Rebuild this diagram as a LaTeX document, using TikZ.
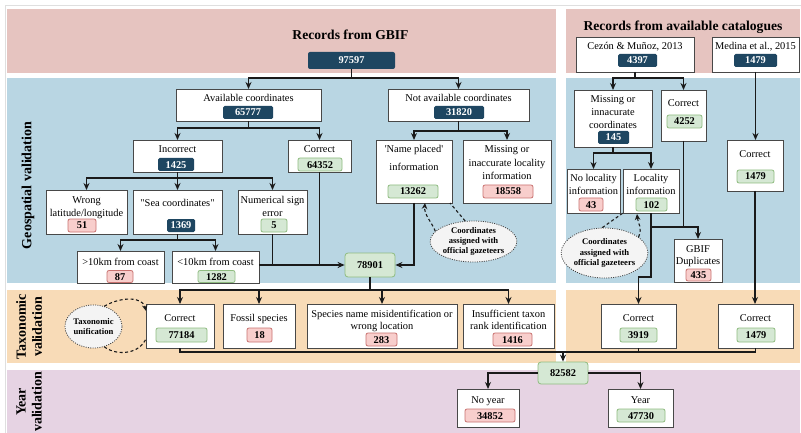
\documentclass[tikz,border=0pt]{standalone}
\usepackage{fontspec}
\setmainfont{Liberation Serif}[Ligatures=TeXOff]
\usetikzlibrary{arrows.meta,shapes.geometric}
\definecolor{pinkband}{HTML}{E6C4C0}
\definecolor{blueband}{HTML}{B9D6E3}
\definecolor{orangeband}{HTML}{F8DBB7}
\definecolor{purpleband}{HTML}{E6D3E3}
\definecolor{navy}{HTML}{1E4661}
\definecolor{gfill}{HTML}{D5E8D4}
\definecolor{gdraw}{HTML}{8FBC80}
\definecolor{pfill}{HTML}{F8CECC}
\definecolor{pdraw}{HTML}{C97270}
\definecolor{boxline}{HTML}{484848}
\definecolor{lc}{HTML}{1A1A1A}
\definecolor{ellfill}{HTML}{F4F4F4}
\newcommand\txtf{\fontsize{10.4}{12.5}\selectfont}
\newcommand\numf{\fontsize{10.4}{12}\selectfont\bfseries}
\newcommand\ellf{\fontsize{8.6}{10.2}\selectfont\bfseries}
\newcommand\titf{\fontsize{13.6}{16}\selectfont\bfseries}
\newcommand\sidef{\fontsize{14}{16}\selectfont\bfseries}
\begin{document}
\begin{tikzpicture}[x=1pt,y=-1pt,
  box/.style={draw=boxline, fill=white, line width=0.9pt, inner sep=0pt, outer sep=0pt},
  tx/.style={font=\txtf, inner sep=0pt, text height=7pt, text depth=1pt},
  num/.style={font=\numf, inner sep=0pt, text height=7pt, text depth=0pt},
  nav/.style={num, fill=navy, text=white, rounded corners=1.5pt},
  gn/.style={num, fill=gfill, draw=gdraw, line width=0.8pt, rounded corners=2pt},
  pk/.style={num, fill=pfill, draw=pdraw, line width=0.8pt, rounded corners=2pt},
  ell/.style={ellipse, draw=black!75, line width=0.8pt, dash pattern=on 1pt off 1.3pt, fill=ellfill, inner sep=0pt, font=\ellf, align=center},
  conn/.style={draw=lc, line width=1.3pt},
  arr/.style={conn, -{Stealth[length=7pt,width=6pt]}},
  dsh/.style={draw=lc, line width=1.1pt, dash pattern=on 3pt off 2.5pt},
  darr/.style={dsh, -{Stealth[length=6pt,width=5.5pt]}},
  side/.style={font=\sidef, rotate=90, align=center, inner sep=0pt},
  ttl/.style={font=\titf, inner sep=0pt}
]
\path[use as bounding box] (0,0) rectangle (801,433);
% frame
\draw[gray!25, line width=0.6pt] (5,433) -- (5,5) -- (801,5);
% bands
\fill[pinkband] (7,9) rectangle (556,73);
\fill[pinkband] (566,9) rectangle (800,73);
\fill[blueband] (7,78) rectangle (556,283);
\fill[blueband] (566,78) rectangle (800,283);
\fill[orangeband] (7,290) rectangle (556,363);
\fill[orangeband] (566,290) rectangle (800,363);
\fill[purpleband] (7,370) rectangle (800,433);

% side labels
\node[side] (lgeo) at (28,185.5) {Geospatial validation};
\node[side] (ltax) at (29,327) {Taxonomic\\validation};
\node[side] (lyear) at (29,402) {Year\\validation};

% titles
\node[ttl] (tgbif) at (350.5,35) {Records from GBIF};
\node[ttl] (tcat) at (683,27) {Records from available catalogues};
\node[nav, minimum width=87pt, minimum height=17pt, rounded corners=2pt] (n97597) at (351.5,60.5) {97597};

% ---------- GBIF geospatial ----------
\node[box, minimum width=145pt, minimum height=32pt] (avail) at (248.5,105) {};
\node[tx] (t-avail) at (248.5,99) {Available coordinates};
\node[nav, minimum width=50pt, minimum height=13pt] (n65777) at (248,112.5) {65777};

\node[box, minimum width=141pt, minimum height=32pt] (notavail) at (458.5,105) {};
\node[tx] (t-notavail) at (458.5,99) {Not available coordinates};
\node[nav, minimum width=50pt, minimum height=13pt] (n31820) at (459,112.5) {31820};

\node[box, minimum width=89pt, minimum height=32pt] (incorrect) at (177.5,156) {};
\node[tx] (t-incorrect) at (177.5,150) {Incorrect};
\node[nav, minimum width=36pt, minimum height=13pt] (n1425) at (176,164.5) {1425};

\node[box, minimum width=63pt, minimum height=32pt] (correct1) at (319.5,156) {};
\node[tx] (t-correct1) at (319.5,150) {Correct};
\node[gn, minimum width=44pt, minimum height=13pt] (n64352) at (320,164.5) {64352};

\node[box, minimum width=76pt, minimum height=63pt] (nameplaced) at (414,171.5) {};
\node[tx] (t-np1) at (414,150) {'Name placed'};
\node[tx] (t-np2) at (414,168) {information};
\node[gn, minimum width=50pt, minimum height=13pt] (n13262) at (413,191.5) {13262};

\node[box, minimum width=88pt, minimum height=63pt] (missloc) at (507,171.5) {};
\node[tx] (t-ml1) at (507,150) {Missing or};
\node[tx] (t-ml2) at (507,163.5) {inaccurate locality};
\node[tx] (t-ml3) at (507,177) {information};
\node[pk, minimum width=50pt, minimum height=13pt] (n18558) at (508,191.5) {18558};

\node[box, minimum width=81pt, minimum height=44pt] (wronglat) at (86.5,212) {};
\node[tx] (t-wl1) at (86.5,201) {Wrong};
\node[tx] (t-wl2) at (86.5,213) {latitude/longitude};
\node[pk, minimum width=28pt, minimum height=13pt] (n51) at (82,225.5) {51};

\node[box, minimum width=89pt, minimum height=44pt] (sea) at (177.5,212) {};
\node[tx] (t-sea) at (177.5,204) {"Sea coordinates"};
\node[nav, minimum width=28pt, minimum height=13pt] (n1369) at (181,225.5) {1369};

\node[box, minimum width=69pt, minimum height=44pt] (numsign) at (272.5,212) {};
\node[tx] (t-ns1) at (272.5,201) {Numerical sign};
\node[tx] (t-ns2) at (272.5,213) {error};
\node[gn, minimum width=26pt, minimum height=13pt] (n5) at (274,225.5) {5};

\node[box, minimum width=87pt, minimum height=32pt] (gt10) at (120.5,267) {};
\node[tx] (t-gt10) at (120.5,262) {>10km from coast};
\node[pk, minimum width=26pt, minimum height=12pt] (n87) at (120,276.5) {87};

\node[box, minimum width=87pt, minimum height=32pt] (lt10) at (215.5,267) {};
\node[tx] (t-lt10) at (215.5,262) {<10km from coast};
\node[gn, minimum width=37pt, minimum height=12pt] (n1282) at (216.5,276.5) {1282};

\node[gn, minimum width=50pt, minimum height=24pt, rounded corners=3pt] (n78901) at (370,265) {78901};

\node[ell, minimum width=81pt, minimum height=41pt] (e1) at (473.5,241.5) {Coordinates\\assigned with\\official gazeteers};

% ---------- catalogues geospatial ----------
\node[box, minimum width=118pt, minimum height=35pt] (cezon) at (635,54.5) {};
\node[tx] (t-cezon) at (635,47) {Cezón \& Muñoz, 2013};
\node[nav, minimum width=39pt, minimum height=13pt] (n4397) at (637.5,60.5) {4397};

\node[box, minimum width=87pt, minimum height=35pt] (medina) at (755.5,54.5) {};
\node[tx] (t-medina) at (755.5,47) {Medina et al., 2015};
\node[nav, minimum width=43pt, minimum height=13pt] (n1479a) at (755.5,60.5) {1479};

\node[box, minimum width=78pt, minimum height=57pt] (missco) at (613,118.5) {};
\node[tx] (t-mc1) at (613,100) {Missing or};
\node[tx] (t-mc2) at (613,113) {innacurate};
\node[tx] (t-mc3) at (613,126) {coordinates};
\node[nav, minimum width=31pt, minimum height=13pt] (n145) at (613.5,137.5) {145};

\node[box, minimum width=45pt, minimum height=51pt] (correct2) at (683.5,115.5) {};
\node[tx] (t-correct2) at (683.5,104) {Correct};
\node[gn, minimum width=35pt, minimum height=13pt] (n4252) at (684.5,121.5) {4252};

\node[box, minimum width=53pt, minimum height=44pt] (noloc) at (593.5,191) {};
\node[tx] (t-nl1) at (593.5,179) {No locality};
\node[tx] (t-nl2) at (593.5,191.5) {information};
\node[pk, minimum width=24pt, minimum height=13pt] (n43) at (591,204.5) {43};

\node[box, minimum width=56pt, minimum height=44pt] (loc) at (651,191) {};
\node[tx] (t-lo1) at (651,179) {Locality};
\node[tx] (t-lo2) at (651,191.5) {information};
\node[gn, minimum width=31pt, minimum height=13pt] (n102) at (651.5,204.5) {102};

\node[box, minimum width=48pt, minimum height=43pt] (gbifdup) at (698,260.5) {};
\node[tx] (t-gd1) at (698,249) {GBIF};
\node[tx] (t-gd2) at (698,261) {Duplicates};
\node[pk, minimum width=25pt, minimum height=12pt] (n435) at (698.5,275) {435};

\node[box, minimum width=56pt, minimum height=51pt] (correct3) at (755,165.5) {};
\node[tx] (t-correct3) at (755,155) {Correct};
\node[gn, minimum width=37pt, minimum height=13pt] (n1479b) at (755.5,176.5) {1479};

\node[ell, minimum width=71pt, minimum height=50pt] (e2) at (604.5,253) {Coordinates\\assigned with\\official gazeteers};

% ---------- taxonomic ----------
\node[box, minimum width=68pt, minimum height=44pt] (correct77184) at (180,326) {};
\node[tx] (t-c77) at (180,318) {Correct};
\node[gn, minimum width=51pt, minimum height=14pt] (n77184) at (181.5,335) {77184};

\node[box, minimum width=72pt, minimum height=44pt] (fossil) at (259,326) {};
\node[tx] (t-fossil) at (259,318) {Fossil species};
\node[pk, minimum width=25pt, minimum height=14pt] (n18) at (259.5,335) {18};

\node[box, minimum width=150pt, minimum height=44pt] (species) at (382,326) {};
\node[tx] (t-sp1) at (382,314) {Species name misidentification or};
\node[tx] (t-sp2) at (382,326.5) {wrong location};
\node[pk, minimum width=31pt, minimum height=13pt] (n283) at (381.5,339.5) {283};

\node[box, minimum width=91pt, minimum height=44pt] (insufficient) at (508.5,326) {};
\node[tx] (t-in1) at (508.5,314) {Insufficient taxon};
\node[tx] (t-in2) at (508.5,326.5) {rank identification};
\node[pk, minimum width=39pt, minimum height=13pt] (n1416) at (512.5,339.5) {1416};

\node[box, minimum width=75pt, minimum height=44pt] (correct3919) at (638.5,326) {};
\node[tx] (t-c39) at (638.5,318) {Correct};
\node[gn, minimum width=37pt, minimum height=14pt] (n3919) at (638.5,335) {3919};

\node[box, minimum width=75pt, minimum height=44pt] (correct1479) at (755.5,326) {};
\node[tx] (t-c14) at (755.5,318) {Correct};
\node[gn, minimum width=38pt, minimum height=14pt] (n1479c) at (756,335) {1479};

\node[ell, minimum width=57pt, minimum height=43pt] (e3) at (93.5,326.5) {Taxonomic\\unification};

% ---------- year ----------
\node[gn, minimum width=50pt, minimum height=22pt, rounded corners=3pt] (n82582) at (563,373) {82582};

\node[box, minimum width=62pt, minimum height=38pt] (noyear) at (488,408) {};
\node[tx] (t-noyear) at (488,400) {No year};
\node[pk, minimum width=50pt, minimum height=13pt] (n34852) at (490,415.5) {34852};

\node[box, minimum width=65pt, minimum height=38pt] (year) at (640.5,408) {};
\node[tx] (t-year) at (640.5,400) {Year};
\node[gn, minimum width=48pt, minimum height=13pt] (n47730) at (641,415.5) {47730};

% ---------- connectors ----------
\coordinate (j1) at (351.5,78);
\draw[arr] (n97597.south) -- (j1) -| (avail.north);
\draw[arr] (j1) -| (notavail.north);

\coordinate (j2) at (248.5,128);
\draw[arr] (avail.south) -- (j2) -| (incorrect.north);
\draw[arr] (j2) -| (correct1.north);

\coordinate (j3) at (458.5,131);
\draw[arr] (notavail.south) -- (j3) -| (nameplaced.north);
\draw[arr] (j3) -| (missloc.north);

\coordinate (j4) at (177.5,178);
\draw[arr] (incorrect.south) -- (j4) -| (wronglat.north);
\draw[arr] (j4) -- (sea.north);
\draw[arr] (j4) -| (numsign.north);

\coordinate (j5) at (177.5,240);
\draw[arr] (sea.south) -- (j5) -| (gt10.north);
\draw[arr] (j5) -| (lt10.north);

\draw[arr] (lt10.east |- n78901.west) -- (n78901.west);
\draw[conn] (numsign.south) -- (numsign.south |- n78901.west);
\draw[conn] (correct1.south) -- (correct1.south |- n78901.west);
\draw[arr] (nameplaced.south) |- (n78901.east);

\coordinate (d1) at (425,203);
\coordinate (d2) at (450,203);
\draw[darr] (e1.165) .. controls +(-4,-10) and +(-1,12) .. (d1);
\draw[dsh] (e1.112) -- (d2);

\coordinate (j7) at (635,78);
\draw[arr] (cezon.south) -- (j7) -| (missco.north);
\draw[arr] (j7) -| (correct2.north);
\draw[arr] (medina.south) -- (medina.south |- correct3.north);

\coordinate (j8) at (613,153);
\draw[arr] (missco.south) -- (j8) -| (noloc.north);
\draw[arr] (j8) -| (loc.north);

\coordinate (j9) at (651,227);
\coordinate (j10) at (651,277);
\draw[conn] (correct2.south) -- (correct2.south |- j9);
\draw[arr] (loc.south) -- (j9) -| (gbifdup.north);
\draw[arr] (j9) -- (j10) -| (correct3919.north);
\draw[arr] (correct3.south) -- (correct3.south |- correct1479.north);

\coordinate (d3) at (637,214);
\coordinate (d4) at (623,213);
\draw[darr] (e2.25) .. controls +(4,-10) and +(1,10) .. (d3);
\draw[dsh] (e2.95) -- (d4);

\coordinate (j6) at (370,290);
\draw[arr] (n78901.south) -- (j6) -| (correct77184.north);
\draw[arr] (j6) -| (fossil.north);
\draw[arr] (j6) -| (species.north);
\draw[arr] (j6) -| (insufficient.north);

\coordinate (d5) at (146,311);
\coordinate (d6) at (146,339);
\draw[darr] (e3.62) .. controls (122,296) and (143,297) .. (d5);
\draw[dsh] (e3.-62) .. controls (118,357) and (140,353) .. (d6);

\coordinate (j11) at (563,352);
\draw[conn] (correct77184.south) |- (correct1479.south |- j11) -- (correct1479.south);
\draw[conn] (correct3919.south) -- (correct3919.south |- j11);
\draw[arr] (j11) -- (n82582.north);

\draw[arr] (n82582.west) -| (noyear.north);
\draw[arr] (n82582.east) -| (year.north);
\end{tikzpicture}
\end{document}
